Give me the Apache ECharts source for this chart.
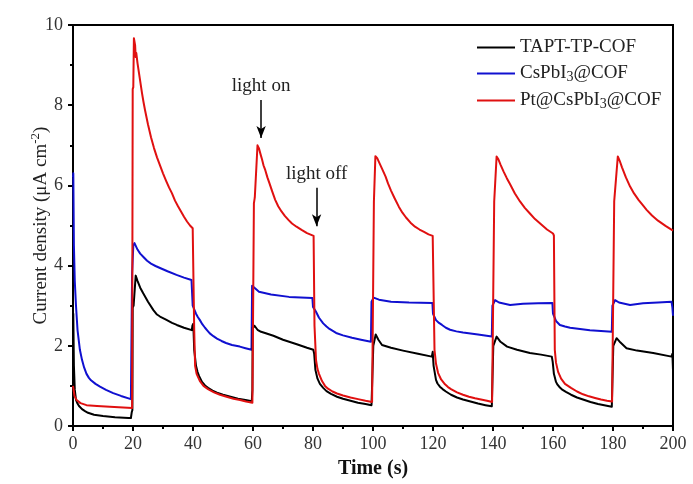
<!DOCTYPE html>
<html>
<head>
<meta charset="utf-8">
<script src="https://cdn.jsdelivr.net/npm/echarts@6/dist/echarts.min.js"></script>
<style>html,body{margin:0;padding:0;background:#fff}#c{width:693px;height:484px}</style>
</head>
<body>
<div id="c"></div>
<script>
const seriesNames = ['TAPT-TP-COF', 'CsPbI3@COF', 'Pt@CsPbI3@COF'];
const xTicks = [0, 20, 40, 60, 80, 100, 120, 140, 160, 180, 200];
const yTicks = [0, 2, 4, 6, 8, 10];

const tapt = [[0,0.8],[0.1,2.8],[0.3,1.5],[0.6,0.9],[1,0.65],[1.5,0.56],[2,0.5],[3,0.42],[4,0.37],[5,0.33],[7,0.28],[10,0.25],[14,0.22],[18.5,0.2],[19.3,0.2],[19.6,0.35],[19.8,0.4],[19.9,2.95],[20.2,3.0],[20.9,3.75],[21.5,3.62],[22.4,3.45],[23.4,3.31],[25,3.1],[26.8,2.89],[28,2.78],[29,2.73],[31,2.65],[33,2.57],[34.6,2.52],[37,2.45],[39.6,2.39],[39.8,2.5],[40.1,2.55],[40.4,1.9],[41,1.5],[41.5,1.35],[42,1.25],[43,1.1],[44,1.01],[45,0.95],[46.5,0.88],[48,0.83],[50,0.78],[52.5,0.73],[55,0.68],[57.5,0.65],[59.6,0.62],[59.8,0.9],[59.9,2.45],[60.5,2.5],[61.5,2.4],[62.7,2.35],[64,2.32],[66.8,2.25],[70,2.15],[74.6,2.04],[78,1.95],[80.1,1.9],[80.4,1.8],[80.8,1.4],[81.5,1.18],[82.3,1.05],[83.4,0.95],[84.5,0.87],[86,0.8],[88,0.73],[90,0.68],[92.5,0.63],[95,0.58],[97.5,0.55],[99.5,0.52],[99.9,0.55],[100.1,2.0],[100.9,2.28],[101.8,2.15],[103,2.02],[106,1.95],[110,1.88],[115,1.8],[119.6,1.73],[119.9,1.85],[120.2,1.5],[121,1.15],[121.5,1.06],[122.3,0.98],[123.2,0.92],[124.3,0.86],[126,0.78],[128,0.71],[130,0.66],[132.5,0.61],[135,0.56],[137.5,0.52],[139.6,0.49],[139.9,0.52],[140.1,2.0],[141.2,2.23],[142.5,2.1],[144.7,1.98],[148,1.9],[152.3,1.82],[156,1.78],[159.6,1.73],[159.9,1.6],[160.3,1.3],[161,1.1],[161.5,1.03],[162.3,0.96],[163.2,0.9],[164.3,0.85],[166,0.78],[168,0.71],[170,0.66],[172.5,0.6],[175,0.55],[177.5,0.51],[179.6,0.48],[179.9,0.52],[180.1,2.0],[181.2,2.19],[182.5,2.08],[184.5,1.94],[188,1.88],[193.4,1.82],[199.5,1.73],[199.8,1.8],[200,1.4]];

const cspbi = [[0,6.2],[0.1,6.3],[0.3,4.5],[0.6,3.6],[1,3.0],[1.5,2.4],[2.3,1.9],[3,1.65],[3.7,1.46],[4.5,1.3],[5.3,1.2],[6,1.14],[7.5,1.05],[9,0.98],[11,0.9],[13.4,0.82],[16,0.75],[19.3,0.67],[19.6,0.68],[19.7,3.8],[19.9,3.8],[20.1,4.5],[20.5,4.56],[21.5,4.4],[22.4,4.3],[23.4,4.22],[24.7,4.12],[26,4.05],[27.5,3.99],[29,3.94],[31.5,3.86],[34.5,3.77],[37,3.7],[39.5,3.64],[39.7,3.6],[39.9,3.0],[40.2,2.97],[41,2.8],[41.6,2.72],[42.3,2.64],[43.1,2.54],[44,2.45],[44.8,2.38],[45.6,2.31],[46.8,2.24],[48,2.18],[49.5,2.12],[51,2.07],[53,2.02],[55.6,1.98],[57.5,1.94],[59.5,1.9],[59.7,3.5],[60.3,3.47],[62,3.35],[66,3.28],[72,3.22],[79.8,3.19],[80,2.97],[81,2.85],[82,2.7],[83.4,2.56],[84.5,2.48],[85.5,2.42],[86.6,2.37],[87.7,2.32],[90,2.26],[93,2.2],[96,2.15],[99.3,2.1],[99.5,3.1],[100.2,3.2],[102,3.15],[106,3.1],[112,3.08],[119.8,3.07],[120,2.8],[121,2.64],[122,2.57],[123,2.52],[124.3,2.45],[125.7,2.4],[127.8,2.36],[130,2.33],[135,2.28],[139.6,2.23],[139.8,3.0],[140.7,3.14],[142,3.08],[145.7,3.02],[150,3.05],[155,3.06],[159.8,3.07],[160,2.8],[161,2.62],[162.3,2.52],[164,2.48],[165.7,2.45],[169,2.42],[172.3,2.39],[176,2.37],[179.6,2.35],[179.8,3.0],[180.7,3.14],[182,3.08],[185.7,3.02],[190,3.06],[195,3.08],[199.5,3.1],[199.8,2.95],[200,2.75]];

const pt = [[0,1.0],[0.5,0.75],[1.2,0.65],[2.5,0.57],[4.5,0.52],[8,0.5],[12.3,0.48],[19.7,0.45],[19.9,8.4],[20.1,8.45],[20.3,9.67],[20.7,9.5],[20.9,9.2],[21.1,9.3],[21.5,9.05],[22,8.8],[22.5,8.55],[23,8.3],[23.5,8.08],[24,7.88],[25,7.52],[26,7.2],[27,6.93],[28,6.7],[29,6.5],[30,6.3],[31,6.12],[32,5.95],[33,5.8],[34,5.62],[35,5.48],[36,5.35],[37,5.22],[38,5.1],[39,5.0],[39.9,4.93],[40.1,4.9],[40.4,2.4],[40.7,1.5],[41.2,1.3],[42.3,1.12],[43.5,1.0],[45,0.92],[47,0.84],[49,0.78],[51.2,0.73],[53.5,0.68],[55.7,0.65],[57.7,0.61],[59.8,0.58],[60.1,0.6],[60.3,5.55],[60.6,5.7],[61.5,7.0],[62,6.92],[62.5,6.78],[63,6.65],[63.5,6.5],[64.1,6.38],[64.8,6.2],[65.5,6.05],[66.4,5.85],[67.4,5.64],[68.4,5.48],[69.5,5.35],[70.6,5.24],[71.8,5.14],[73,5.05],[74.5,4.97],[76.2,4.89],[78,4.81],[80.2,4.74],[80.5,2.5],[81,1.65],[81.5,1.42],[82,1.3],[83,1.12],[84,1.0],[85,0.93],[86.5,0.86],[88,0.81],[90,0.76],[92.5,0.71],[95,0.67],[97.5,0.63],[99.7,0.6],[100.1,0.62],[100.3,5.6],[100.8,6.73],[101.4,6.68],[102,6.58],[103,6.42],[104.2,6.22],[105,6.05],[106,5.87],[107.2,5.68],[108.6,5.47],[109.8,5.32],[111,5.2],[112.5,5.07],[114,4.97],[115.5,4.9],[117,4.84],[118.5,4.78],[119.9,4.74],[120.2,4.7],[120.5,1.9],[121,1.55],[121.7,1.32],[122.7,1.16],[124,1.04],[125,0.97],[126,0.92],[128,0.84],[130,0.78],[132,0.73],[134,0.69],[136,0.66],[138,0.63],[139.7,0.6],[140.1,0.62],[140.4,5.6],[141.2,6.72],[141.8,6.65],[142.5,6.52],[143.5,6.35],[144.6,6.18],[145.7,6.03],[147.3,5.8],[149,5.6],[150.6,5.44],[152.3,5.3],[154,5.16],[156,5.03],[158,4.9],[160,4.8],[160.3,4.75],[160.6,1.9],[161,1.58],[161.7,1.35],[162.7,1.18],[164,1.05],[166,0.95],[168,0.86],[170,0.79],[172,0.74],[174,0.7],[176,0.66],[178,0.63],[179.7,0.61],[180.1,0.63],[180.4,5.6],[181.6,6.72],[182.2,6.62],[183,6.45],[184.3,6.2],[185.7,5.97],[187,5.8],[188.5,5.64],[190,5.5],[191.2,5.39],[193,5.25],[195,5.12],[197.5,4.99],[200,4.87]];

const lightOnArrow = [[62.7, 8.13], [62.7, 7.18]];
const lightOffArrow = [[81.2, 5.94], [81.2, 4.98]];

const FONT = 'Liberation Serif';
const chart = echarts.init(document.getElementById('c'), null, {renderer: 'canvas'});

function legendFmt(name) {
  if (name.indexOf('CsPbI3') >= 0) {
    const parts = name.split('CsPbI3');
    return (parts[0] ? '{n|' + parts[0] + '}' : '') + '{n|CsPbI}{s|3}{n|' + parts[1] + '}';
  }
  return '{n|' + name + '}';
}

function arrowLine(pts, text) {
  return [{coord: pts[0], label: {formatter: text}}, {coord: pts[1]}];
}

chart.setOption({
  animation: false,
  backgroundColor: '#fff',
  grid: {left: 73, right: 20, top: 25, bottom: 58, show: true, borderColor: '#000', borderWidth: 2, backgroundColor: 'transparent'},
  legend: {
    orient: 'vertical', left: 472, top: 33, itemGap: 7, itemWidth: 38, itemHeight: 2,
    icon: 'rect',
    data: seriesNames,
    formatter: legendFmt,
    textStyle: {
      fontFamily: FONT, color: '#222',
      rich: {
        n: {fontFamily: FONT, fontSize: 19, color: '#222', lineHeight: 21},
        s: {fontFamily: FONT, fontSize: 14, color: '#222', lineHeight: 10, verticalAlign: 'bottom'}
      }
    },
    selectedMode: false
  },
  xAxis: {
    type: 'value', min: 0, max: 200, interval: 20,
    name: 'Time (s)', nameLocation: 'middle', nameGap: 33,
    nameTextStyle: {fontFamily: FONT, fontSize: 20, fontWeight: 'bold', color: '#111'},
    axisLine: {lineStyle: {color: '#000', width: 2}},
    axisTick: {length: 5, lineStyle: {color: '#000', width: 2}},
    minorTick: {show: true, splitNumber: 2, length: 3, lineStyle: {color: '#000', width: 2}},
    axisLabel: {fontFamily: FONT, fontSize: 18, color: '#333', margin: 9,
      formatter: v => xTicks.indexOf(v) >= 0 ? String(v) : ''},
    splitLine: {show: false}
  },
  yAxis: {
    type: 'value', min: 0, max: 10, interval: 2,
    name: '{n|Current density (μA cm}{p|-2}{n|)}', nameLocation: 'middle', nameGap: 20,
    nameMoveOverlap: false,
    nameTextStyle: {
      fontFamily: FONT, color: '#222',
      rich: {
        n: {fontFamily: FONT, fontSize: 19, color: '#222', lineHeight: 24},
        p: {fontFamily: FONT, fontSize: 13, color: '#222', lineHeight: 12, verticalAlign: 'top'}
      }
    },
    axisLine: {lineStyle: {color: '#000', width: 2}},
    axisTick: {length: 5, lineStyle: {color: '#000', width: 2}},
    minorTick: {show: true, splitNumber: 2, length: 3, lineStyle: {color: '#000', width: 2}},
    axisLabel: {fontFamily: FONT, fontSize: 18, color: '#333', margin: 10,
      formatter: v => yTicks.indexOf(v) >= 0 ? String(v) : ''},
    splitLine: {show: false}
  },
  series: [
    {name: seriesNames[0], type: 'line', data: tapt, showSymbol: false, symbol: 'none',
     lineStyle: {color: '#000', width: 2, join: 'round'}, itemStyle: {color: '#000'}, z: 3},
    {name: seriesNames[1], type: 'line', data: cspbi, showSymbol: false, symbol: 'none',
     lineStyle: {color: '#1010d0', width: 2, join: 'round'}, itemStyle: {color: '#1010d0'}, z: 2},
    {name: seriesNames[2], type: 'line', data: pt, showSymbol: false, symbol: 'none',
     lineStyle: {color: '#e01010', width: 2, join: 'round'}, itemStyle: {color: '#e01010'}, z: 4,
     markLine: {
       silent: true, animation: false,
       symbol: ['none', 'arrow'], symbolSize: [7, 12],
       lineStyle: {color: '#000', width: 1.5, type: 'solid'},
       label: {show: true, position: 'start', distance: 4, color: '#222', fontFamily: FONT, fontSize: 19},
       data: [arrowLine(lightOnArrow, 'light on'), arrowLine(lightOffArrow, 'light off')]
     }}
  ]
});
</script>
</body>
</html>
